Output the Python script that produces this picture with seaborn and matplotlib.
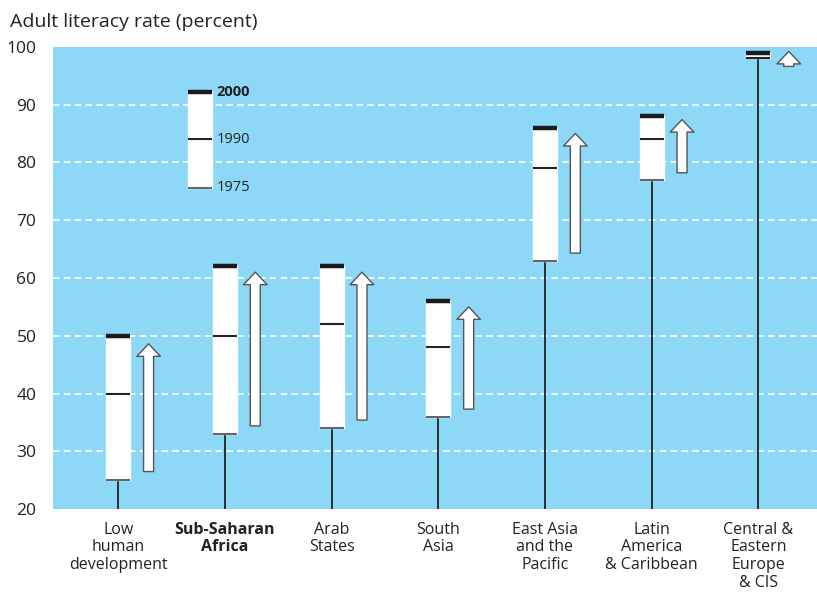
import numpy as np
import pandas as pd
import seaborn as sns
import matplotlib.pyplot as plt
from matplotlib.patches import FancyArrowPatch

# data
regions = ["Low\nhuman\ndevelopment", "Sub-Saharan\nAfrica", "Arab\nStates", "South\nAsia",
           "East Asia\nand the\nPacific", "Latin\nAmerica\n& Caribbean", "Central &\nEastern\nEurope\n& CIS"]
rate_1975 = [25, 33, 34, 36, 63, 77, 98]
rate_1990 = [40, 50, 52, 48, 79, 84, 98]
rate_2000 = [50, 62, 62, 56, 86, 88, 99]
# arrows: projected gain (start, tip)
arrow_start = [26.5, 34.4, 35.4, 37.3, 64.3, 78.2, 96.6]
arrow_end = [48.6, 61.0, 61.0, 55.0, 85.0, 87.4, 99.2]
legend_years = ["1975", "1990", "2000"]
legend_vals = [75.6, 84, 92.2]
yticks = [20, 30, 40, 50, 60, 70, 80, 90, 100]

df = pd.DataFrame({"region": regions, "y1975": rate_1975, "y1990": rate_1990, "y2000": rate_2000})

sns.set_theme(style="white")
plt.rcParams['font.family'] = ['Open Sans', 'DejaVu Sans']
txt = "#222222"
bg = "#8dd7f7"

fig, ax = plt.subplots(figsize=(8.17, 5.92), dpi=100)
fig.subplots_adjust(left=0.065, right=1.0, top=0.921, bottom=0.14)
ax.set_facecolor(bg)
for s in ax.spines.values():
    s.set_visible(False)

x = np.arange(len(df))
bw = 0.225
off = 0.285

for yv in yticks[1:-1]:
    ax.axhline(yv, color="white", lw=1.2, ls=(0, (4, 2.5)), zorder=1)

# stems
ax.vlines(x, 20, df["y1975"], color="#222222", lw=1.3, zorder=2)
# boxes
ax.bar(x, df["y2000"] - df["y1975"], bottom=df["y1975"], width=bw, color="white", zorder=3)
ax.hlines(df["y1975"], x - bw / 2, x + bw / 2, color="#555555", lw=1.3, zorder=4)
ax.hlines(df["y1990"], x - bw / 2, x + bw / 2, color="#222222", lw=1.5, zorder=4)
ax.hlines(df["y2000"], x - bw / 2, x + bw / 2, color="#1a1a1a", lw=3.2, zorder=4)

for i in range(len(df)):
    arr = FancyArrowPatch((x[i] + off, arrow_start[i]), (x[i] + off, arrow_end[i]),
                          arrowstyle="simple,head_length=0.45,head_width=0.85,tail_width=0.36",
                          mutation_scale=20, fc="white", ec="#555555", lw=1.0,
                          shrinkA=0, shrinkB=0, zorder=5)
    ax.add_patch(arr)

# legend key
lx = 0.77
ax.bar(lx, legend_vals[2] - legend_vals[0], bottom=legend_vals[0], width=bw, color="white", zorder=3)
ax.hlines(legend_vals[0], lx - bw / 2, lx + bw / 2, color="#555555", lw=1.3, zorder=4)
ax.hlines(legend_vals[1], lx - bw / 2, lx + bw / 2, color="#222222", lw=1.5, zorder=4)
ax.hlines(legend_vals[2], lx - bw / 2, lx + bw / 2, color="#1a1a1a", lw=3.2, zorder=4)
for yr, v in zip(legend_years, legend_vals):
    ax.text(lx + bw / 2 + 0.04, v, yr, va="center", ha="left", fontsize=10.5, color=txt,
            fontweight="bold" if yr == "2000" else "normal")

ax.set_xlim(-0.61, 6.55)
ax.set_ylim(20, 100)
ax.set_yticks(yticks)
ax.set_yticklabels([str(t) for t in yticks], fontsize=12.5, color=txt)
ax.set_xticks(x)
ax.set_xticklabels(regions, fontsize=11.5, color=txt, linespacing=1.15, va="top")
for lab in ax.get_xticklabels():
    if lab.get_text().startswith("Sub-Saharan"):
        lab.set_fontweight("bold")
ax.tick_params(axis="y", length=0, pad=12)
ax.tick_params(axis="x", length=0, pad=9)
fig.text(0.012, 0.962, "Adult literacy rate (percent)", fontsize=14, color=txt, va="center")

fig.savefig("out.png", dpi=100)
